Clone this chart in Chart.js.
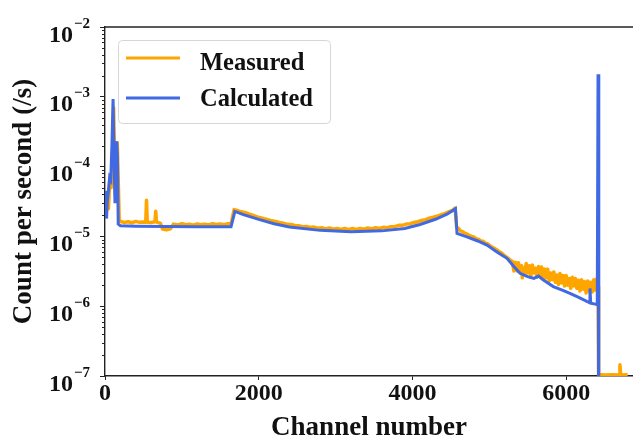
<!DOCTYPE html>
<html>
<head>
<meta charset="utf-8">
<script src="https://cdn.jsdelivr.net/npm/chart.js@4.4.1/dist/chart.umd.min.js"></script>
<style>
  html, body { margin: 0; padding: 0; background: #fff; }
  #wrap { width: 633px; height: 439px; }
</style>
</head>
<body>
<div id="wrap"><canvas id="myChart" width="633" height="439"></canvas></div>
<script>
// ---- data
let seriesNames = ["Measured", "Calculated"];
let xTicks = [0, 2000, 4000, 6000];
let yExps = [-7, -6, -5, -4, -3, -2];

let measChannels = [
  0, 15, 30, 45, 60, 80, 100, 112, 122, 135,
  150, 160, 170, 185, 200, 250, 300, 350, 400, 450,
  500, 530, 540, 550, 600, 650, 660, 670, 720, 750,
  800, 850, 890, 950, 1000, 1050, 1100, 1150, 1200, 1250,
  1300, 1350, 1400, 1450, 1500, 1550, 1600, 1640, 1680, 1720,
  1770, 1820, 1870, 1920, 1970, 2020, 2070, 2120, 2170, 2220,
  2270, 2320, 2370, 2420, 2470, 2520, 2570, 2620, 2670, 2720,
  2770, 2820, 2870, 2920, 2970, 3020, 3070, 3120, 3170, 3220,
  3270, 3320, 3370, 3420, 3470, 3520, 3570, 3620, 3670, 3720,
  3770, 3820, 3870, 3920, 3970, 4020, 4070, 4120, 4170, 4220,
  4270, 4320, 4370, 4420, 4470, 4520, 4555, 4575, 4600, 4625,
  4650, 4680, 4710, 4740, 4770, 4800, 4830, 4860, 4890, 4920,
  4950, 4980, 5010, 5040, 5070, 5100, 5130, 5160, 5190, 5220,
  5250, 5280, 5300, 5320, 5340, 5360, 5380, 5400, 5420, 5430,
  5440, 5460, 5480, 5500, 5520, 5540, 5560, 5580, 5600, 5620,
  5640, 5660, 5680, 5700, 5720, 5740, 5760, 5780, 5800, 5820,
  5840, 5860, 5880, 5900, 5920, 5940, 5960, 5980, 6000, 6020,
  6040, 6060, 6080, 6100, 6120, 6140, 6160, 6180, 6200, 6220,
  6240, 6260, 6280, 6300, 6320, 6340, 6360, 6380, 6400, 6415,
  6422, 6500, 6600, 6690, 6700, 6710, 6800
];
let measCounts = [
  3.5e-5, 2.0e-5, 4.0e-5, 2.5e-5, 6.0e-5, 5.0e-5, 1.5e-4, 7.0e-4, 2.0e-4, 4.0e-5,
  1.0e-4, 2.2e-4, 8.0e-5, 1.7e-5, 1.65e-5, 1.58e-5, 1.62e-5, 1.57e-5, 1.64e-5, 1.59e-5,
  1.61e-5, 1.6e-5, 3.3e-5, 1.6e-5, 1.58e-5, 1.62e-5, 2.3e-5, 1.6e-5, 1.55e-5, 1.27e-5,
  1.24e-5, 1.28e-5, 1.5e-5, 1.46e-5, 1.52e-5, 1.47e-5, 1.5e-5, 1.45e-5, 1.51e-5, 1.47e-5,
  1.5e-5, 1.46e-5, 1.52e-5, 1.48e-5, 1.51e-5, 1.47e-5, 1.52e-5, 1.5e-5, 2.42e-5, 2.36e-5,
  2.25e-5, 2.2e-5, 2.1e-5, 2.02e-5, 1.92e-5, 1.86e-5, 1.79e-5, 1.74e-5, 1.67e-5, 1.64e-5,
  1.58e-5, 1.55e-5, 1.49e-5, 1.48e-5, 1.43e-5, 1.42e-5, 1.38e-5, 1.39e-5, 1.34e-5, 1.36e-5,
  1.31e-5, 1.33e-5, 1.28e-5, 1.32e-5, 1.27e-5, 1.3e-5, 1.26e-5, 1.3e-5, 1.25e-5, 1.3e-5,
  1.26e-5, 1.3e-5, 1.27e-5, 1.32e-5, 1.28e-5, 1.33e-5, 1.3e-5, 1.35e-5, 1.33e-5, 1.38e-5,
  1.38e-5, 1.44e-5, 1.44e-5, 1.5e-5, 1.52e-5, 1.58e-5, 1.62e-5, 1.69e-5, 1.74e-5, 1.82e-5,
  1.88e-5, 1.95e-5, 2.04e-5, 2.12e-5, 2.24e-5, 2.35e-5, 2.55e-5, 1.35e-5, 1.3e-5, 1.2e-5,
  1.17e-5, 1.12e-5, 1.08e-5, 1.03e-5, 1.0e-5, 9.8e-6, 9.2e-6, 9.1e-6, 8.6e-6, 8.5e-6,
  8.0e-6, 7.8e-6, 7.3e-6, 7.0e-6, 6.7e-6, 6.4e-6, 6.0e-6, 5.8e-6, 5.4e-6, 5.1e-6,
  4.8e-6, 4.5e-6, 4.4e-6, 3.2e-6, 4.25e-6, 3.2e-6, 4.2e-6, 3.1e-6, 3.8e-6, 2.55e-6,
  3.55e-6, 2.9e-6, 4.1e-6, 3.0e-6, 3.8e-6, 2.65e-6, 3.9e-6, 3.0e-6, 3.5e-6, 2.6e-6,
  3.7e-6, 2.8e-6, 3.65e-6, 2.55e-6, 3.4e-6, 2.55e-6, 3.4e-6, 2.3e-6, 3.0e-6, 2.4e-6,
  3.1e-6, 2.2e-6, 2.8e-6, 2.05e-6, 2.95e-6, 2.15e-6, 2.75e-6, 1.95e-6, 2.75e-6, 2.0e-6,
  2.5e-6, 1.8e-6, 2.6e-6, 1.95e-6, 2.5e-6, 1.8e-6, 2.35e-6, 1.65e-6, 2.4e-6, 1.75e-6,
  2.25e-6, 1.55e-6, 2.3e-6, 1.65e-6, 2.2e-6, 1.6e-6, 2.4e-6, 1.7e-6, 2.5e-6, 1.9e-6,
  1.05e-7, 1.03e-7, 1.04e-7, 1.03e-7, 1.45e-7, 1.03e-7, 1.04e-7
];

let calcChannels = [
  0, 10, 20, 30, 45, 60, 75, 90, 105, 118,
  130, 142, 152, 162, 172, 200, 400, 800, 1200, 1640,
  1690, 1800, 2000, 2200, 2400, 2800, 3200, 3600, 3900, 4100,
  4300, 4450, 4560, 4580, 4700, 4850, 4970, 5100, 5230, 5320,
  5400, 5500, 5580, 5640, 5700, 5833, 5950, 6050, 6150, 6270,
  6300, 6310, 6320, 6380, 6405, 6415, 6425
];
let calcCounts = [
  2.5e-5, 4.5e-5, 1.8e-5, 3.2e-5, 4.5e-5, 7.0e-5, 6.5e-5, 2.0e-4, 9.3e-4, 1.2e-4,
  3.0e-5, 6.0e-5, 2.3e-4, 1.4e-4, 1.5e-5, 1.42e-5, 1.40e-5, 1.39e-5, 1.38e-5, 1.38e-5,
  2.28e-5, 2.05e-5, 1.75e-5, 1.52e-5, 1.36e-5, 1.22e-5, 1.17e-5, 1.2e-5, 1.3e-5, 1.48e-5,
  1.76e-5, 2.08e-5, 2.5e-5, 1.1e-5, 9.9e-6, 8.6e-6, 7.5e-6, 6.0e-6, 4.85e-6, 3.7e-6,
  2.96e-6, 2.65e-6, 2.5e-6, 2.7e-6, 2.4e-6, 1.91e-6, 1.7e-6, 1.53e-6, 1.36e-6, 1.17e-6,
  1.13e-6, 1.8e-6, 1.1e-6, 1.07e-6, 1.05e-6, 2.1e-3, 1e-9
];

let colors = ["#FFA500", "#4169E1"];
let serif = "'Liberation Serif', 'Times New Roman', serif";

function pts(xs, ys) {
  return xs.map((x, i) => ({ x: x, y: ys[i] }));
}

// extra drawing: top spine, minor ticks, y labels with exponents, y title, legend box
let decor = {
  id: "decor",
  afterDraw(chart) {
    let ctx = chart.ctx;
    let a = chart.chartArea;
    let ys = chart.scales.y;
    ctx.save();

    ctx.strokeStyle = "#222";
    ctx.lineWidth = 1.4;
    ctx.beginPath();
    ctx.moveTo(a.left, a.top);
    ctx.lineTo(a.right, a.top);
    ctx.stroke();

    ctx.lineWidth = 1;
    for (let e = -7; e < -2; e++) {
      for (let k = 2; k < 10; k++) {
        let py = Math.round(ys.getPixelForValue(k * Math.pow(10, e))) + 0.5;
        ctx.beginPath();
        ctx.moveTo(a.left - 3, py);
        ctx.lineTo(a.left, py);
        ctx.stroke();
      }
    }

    ctx.fillStyle = "#111";
    ctx.textBaseline = "alphabetic";
    ctx.textAlign = "left";
    yExps.forEach((e) => {
      let py = ys.getPixelForValue(Math.pow(10, e));
      let sup = "\u2212" + Math.abs(e);
      ctx.font = "bold 15px " + serif;
      let sw = ctx.measureText(sup).width;
      let right = a.left - 15;
      ctx.fillText(sup, right - sw, py + 0.5);
      ctx.font = "bold 24px " + serif;
      let bw = ctx.measureText("10").width;
      ctx.fillText("10", right - sw - bw - 1, py + 14.5);
    });

    ctx.save();
    ctx.translate(31, (a.top + a.bottom) / 2);
    ctx.rotate(-Math.PI / 2);
    ctx.textAlign = "center";
    ctx.font = "bold 27px " + serif;
    ctx.fillText("Count per second (/s)", 0, 0);
    ctx.restore();

    // legend
    ctx.beginPath();
    ctx.roundRect(118.5, 40.5, 212, 83, 4);
    ctx.fillStyle = "rgba(255,255,255,0.8)";
    ctx.fill();
    ctx.strokeStyle = "#d6d6d6";
    ctx.lineWidth = 1;
    ctx.stroke();
    let rows = [58, 98];
    let bases = [70, 106];
    ctx.font = "bold 24.5px " + serif;
    ctx.fillStyle = "#111";
    seriesNames.forEach((name, i) => {
      ctx.strokeStyle = colors[i];
      ctx.lineWidth = 3;
      ctx.beginPath();
      ctx.moveTo(126, rows[i]);
      ctx.lineTo(180, rows[i]);
      ctx.stroke();
      ctx.fillText(name, 200, bases[i]);
    });

    ctx.restore();
  }
};

let mychart = document.getElementById("myChart").getContext("2d");
let lineChart = new Chart(mychart, {
  type: "line",
  data: {
    datasets: [
      {
        label: seriesNames[0],
        data: pts(measChannels, measCounts),
        borderColor: colors[0],
        borderWidth: 3.5,
        borderJoinStyle: "round",
        pointRadius: 0,
        tension: 0,
        fill: false,
        clip: 0,
        order: 2,
      },
      {
        label: seriesNames[1],
        data: pts(calcChannels, calcCounts),
        borderColor: colors[1],
        borderWidth: 3,
        pointRadius: 0,
        tension: 0,
        fill: false,
        clip: 0,
        order: 1,
      },
    ],
  },
  options: {
    responsive: false,
    animation: false,
    layout: { padding: { left: 100, top: 27, right: 0, bottom: 0 } },
    plugins: { legend: { display: false }, tooltip: { enabled: false } },
    scales: {
      x: {
        type: "linear",
        min: 0,
        max: 6870,
        afterBuildTicks: (s) => { s.ticks = xTicks.map((v) => ({ value: v })); },
        grid: { drawOnChartArea: false, tickLength: 4, tickColor: "#222", tickWidth: 1 },
        border: { color: "#222", width: 1.4 },
        ticks: {
          color: "#111",
          padding: 2,
          maxRotation: 0,
          font: { family: serif, size: 24, weight: "bold", lineHeight: 1 },
          callback: (v) => String(v),
        },
        title: {
          display: true,
          text: "Channel number",
          color: "#111",
          padding: { top: 9.4, bottom: 0 },
          font: { family: serif, size: 27, weight: "bold", lineHeight: 0.8 },
        },
      },
      y: {
        type: "logarithmic",
        min: 1e-7,
        max: 1e-2,
        afterBuildTicks: (s) => { s.ticks = yExps.map((e) => ({ value: Math.pow(10, e), major: true })); },
        grid: { drawOnChartArea: false, tickLength: 5, tickColor: "#222", tickWidth: 1 },
        border: { color: "#222", width: 1.4 },
        ticks: { display: false },
      },
    },
  },
  plugins: [decor],
});
</script>
</body>
</html>
